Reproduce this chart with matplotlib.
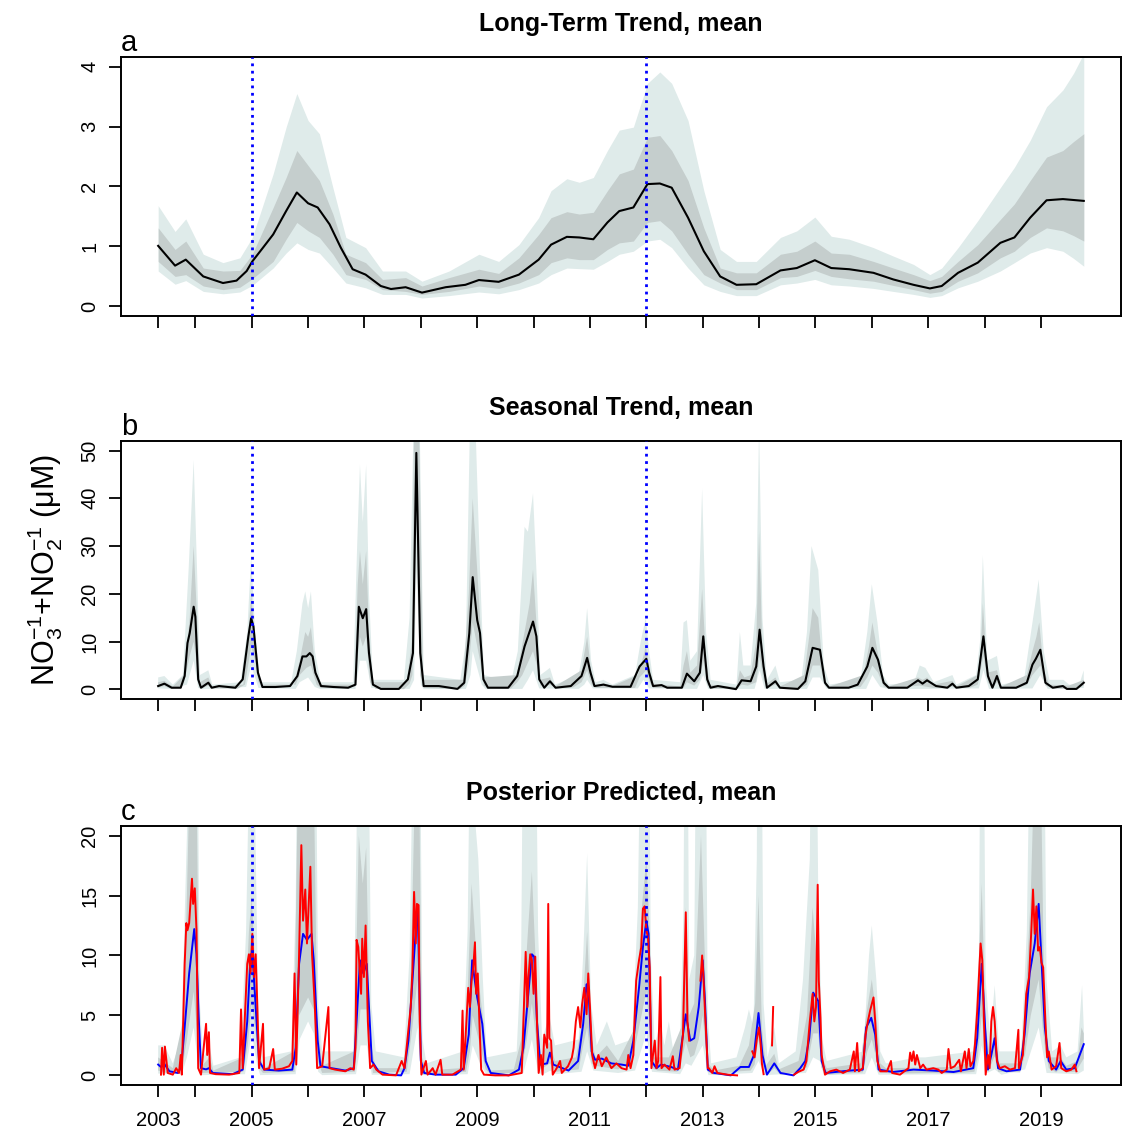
import numpy as np
import matplotlib
matplotlib.use("Agg")
import matplotlib.pyplot as plt

plt.rcParams['font.family'] = ['Liberation Sans', 'DejaVu Sans']
plt.rcParams['mathtext.fontset'] = 'custom'
plt.rcParams['mathtext.rm'] = 'Liberation Sans'
plt.rcParams['mathtext.it'] = 'Liberation Sans:italic'
plt.rcParams['mathtext.bf'] = 'Liberation Sans:bold'

# x axis: first tick is the start of the record, then Jan 1 of each year
x_tick_pos = [2003.34, 2004, 2005, 2006, 2007, 2008, 2009, 2010, 2011, 2012,
              2013, 2014, 2015, 2016, 2017, 2018, 2019]
x_tick_lab = ['2003', '', '2005', '', '2007', '', '2009', '', '2011', '',
              '2013', '', '2015', '', '2017', '', '2019']
break_years = [2005.0, 2012.0]

# ---------------- (a) long-term trend ----------------
a_mean = [(2003.34, 1.01), (2003.64, 0.68), (2003.83, 0.78), (2004.14, 0.50), (2004.49, 0.39),
          (2004.73, 0.43), (2004.91, 0.59), (2005.01, 0.75), (2005.20, 0.98), (2005.38, 1.20),
          (2005.61, 1.59), (2005.80, 1.90), (2006.00, 1.72), (2006.17, 1.65), (2006.38, 1.37),
          (2006.58, 0.98), (2006.79, 0.62), (2007.02, 0.53), (2007.29, 0.34), (2007.47, 0.29),
          (2007.73, 0.32), (2008.02, 0.23), (2008.44, 0.32), (2008.79, 0.36), (2009.03, 0.44),
          (2009.38, 0.41), (2009.74, 0.53), (2010.09, 0.78), (2010.31, 1.03), (2010.59, 1.16),
          (2010.81, 1.15), (2011.06, 1.12), (2011.31, 1.40), (2011.52, 1.59), (2011.77, 1.65),
          (2012.02, 2.04), (2012.24, 2.05), (2012.45, 1.98), (2012.74, 1.48), (2013.02, 0.92),
          (2013.31, 0.50), (2013.60, 0.36), (2013.95, 0.37), (2014.38, 0.60), (2014.67, 0.64),
          (2014.99, 0.77), (2015.28, 0.64), (2015.60, 0.62), (2016.03, 0.56), (2016.38, 0.45),
          (2016.74, 0.36), (2017.03, 0.30), (2017.24, 0.34), (2017.53, 0.56), (2017.88, 0.73),
          (2018.28, 1.06), (2018.53, 1.15), (2018.81, 1.48), (2019.10, 1.77), (2019.39, 1.79),
          (2019.76, 1.76)]

a_band_yr = [2003.34, 2003.64, 2003.83, 2004.14, 2004.49, 2004.79, 2005.01, 2005.38, 2005.61,
             2005.80, 2006.00, 2006.20, 2006.44, 2006.67, 2007.02, 2007.32, 2007.73, 2008.02,
             2008.50, 2009.03, 2009.38, 2009.74, 2010.09, 2010.31, 2010.59, 2010.81, 2011.06,
             2011.31, 2011.52, 2011.77, 2012.02, 2012.24, 2012.45, 2012.74, 2013.02, 2013.31,
             2013.60, 2013.95, 2014.38, 2014.67, 2014.99, 2015.28, 2015.60, 2016.03, 2016.38,
             2016.74, 2017.03, 2017.24, 2017.53, 2017.88, 2018.28, 2018.53, 2018.81, 2019.10,
             2019.39, 2019.58, 2019.76]
a_hi95 = [1.68, 1.25, 1.46, 0.87, 0.73, 0.81, 1.15, 2.21, 2.99, 3.55, 3.10, 2.88, 1.98, 1.15,
          0.98, 0.59, 0.59, 0.42, 0.59, 0.87, 0.75, 1.03, 1.48, 1.93, 2.13, 2.07, 2.15, 2.60,
          2.94, 2.99, 3.72, 3.91, 3.72, 3.10, 1.93, 0.95, 0.75, 0.75, 1.15, 1.26, 1.49, 1.17,
          1.12, 0.98, 0.84, 0.70, 0.53, 0.64, 0.98, 1.43, 1.98, 2.32, 2.77, 3.33, 3.61, 3.89, 4.22]
a_hi50 = [1.31, 0.95, 1.09, 0.64, 0.59, 0.60, 0.87, 1.65, 2.15, 2.60, 2.35, 2.10, 1.54, 0.87,
          0.73, 0.45, 0.48, 0.34, 0.48, 0.62, 0.55, 0.81, 1.20, 1.48, 1.58, 1.54, 1.57, 1.93,
          2.21, 2.29, 2.82, 2.85, 2.60, 2.10, 1.31, 0.64, 0.56, 0.56, 0.87, 0.92, 1.09, 0.89,
          0.87, 0.75, 0.64, 0.53, 0.43, 0.50, 0.75, 1.03, 1.45, 1.71, 2.10, 2.49, 2.60, 2.75, 2.88]
a_lo50 = [0.75, 0.50, 0.53, 0.34, 0.28, 0.32, 0.46, 0.75, 1.12, 1.40, 1.26, 1.15, 0.87, 0.53,
          0.45, 0.28, 0.25, 0.20, 0.25, 0.34, 0.30, 0.39, 0.53, 0.73, 0.81, 0.78, 0.78, 0.95,
          1.06, 1.09, 1.40, 1.43, 1.26, 0.87, 0.53, 0.39, 0.28, 0.28, 0.48, 0.50, 0.60, 0.50,
          0.46, 0.42, 0.35, 0.28, 0.22, 0.25, 0.42, 0.56, 0.81, 0.92, 1.15, 1.31, 1.26, 1.18, 1.09]
a_lo95 = [0.59, 0.37, 0.43, 0.25, 0.21, 0.24, 0.35, 0.64, 0.89, 1.06, 0.95, 0.89, 0.64, 0.39,
          0.31, 0.20, 0.20, 0.14, 0.18, 0.24, 0.21, 0.28, 0.39, 0.53, 0.64, 0.63, 0.62, 0.75,
          0.87, 0.92, 1.09, 1.12, 0.98, 0.64, 0.36, 0.25, 0.18, 0.18, 0.36, 0.39, 0.45, 0.36,
          0.34, 0.30, 0.25, 0.20, 0.15, 0.18, 0.31, 0.42, 0.59, 0.73, 0.89, 0.98, 0.92, 0.80, 0.67]

# ---------------- (b) seasonal trend ----------------
b_mean = [(2003.34, 0.7), (2003.45, 1.2), (2003.58, 0.35), (2003.74, 0.35), (2003.81, 2.8),
          (2003.86, 9.7), (2003.90, 11.8), (2003.97, 17.3), (2004.00, 15.2), (2004.05, 2.1),
          (2004.10, 0.35), (2004.23, 1.4), (2004.29, 0.35), (2004.42, 0.7), (2004.71, 0.35),
          (2004.84, 2.1), (2004.94, 11.1), (2004.99, 14.9), (2005.03, 13.2), (2005.11, 3.5),
          (2005.19, 0.5), (2005.42, 0.5), (2005.68, 0.7), (2005.81, 2.8), (2005.90, 6.9),
          (2005.97, 6.9), (2006.03, 7.6), (2006.08, 6.9), (2006.13, 3.5), (2006.23, 0.7),
          (2006.45, 0.5), (2006.71, 0.35), (2006.84, 1.0), (2006.90, 17.3), (2006.97, 14.9),
          (2007.03, 16.8), (2007.08, 7.6), (2007.15, 1.0), (2007.29, 0.1), (2007.61, 0.1),
          (2007.77, 2.1), (2007.86, 7.6), (2007.92, 49.5), (2007.99, 7.6), (2008.05, 0.7),
          (2008.32, 0.7), (2008.65, 0.1), (2008.77, 1.4), (2008.86, 11.8), (2008.92, 23.5),
          (2009.00, 14.5), (2009.05, 11.8), (2009.11, 2.1), (2009.19, 0.35), (2009.55, 0.35),
          (2009.71, 2.8), (2009.84, 9.0), (2009.99, 14.2), (2010.05, 11.1), (2010.10, 2.1),
          (2010.19, 0.35), (2010.29, 1.7), (2010.39, 0.35), (2010.66, 0.7), (2010.85, 2.8),
          (2010.95, 6.6), (2011.01, 3.5), (2011.08, 0.7), (2011.24, 1.0), (2011.40, 0.55),
          (2011.72, 0.55), (2011.88, 4.8), (2012.00, 6.4), (2012.05, 3.5), (2012.12, 0.7),
          (2012.27, 0.9), (2012.37, 0.35), (2012.63, 0.35), (2012.72, 3.3), (2012.85, 1.7),
          (2012.95, 3.5), (2013.01, 11.1), (2013.08, 2.1), (2013.14, 0.35), (2013.27, 0.7),
          (2013.59, 0.05), (2013.69, 1.9), (2013.85, 1.7), (2013.95, 4.8), (2014.01, 12.5),
          (2014.08, 4.8), (2014.14, 0.35), (2014.29, 1.7), (2014.37, 0.35), (2014.69, 0.1),
          (2014.82, 1.7), (2014.95, 8.7), (2015.08, 8.3), (2015.17, 1.4), (2015.24, 0.35),
          (2015.59, 0.35), (2015.75, 1.0), (2015.92, 4.8), (2016.01, 8.7), (2016.11, 6.2),
          (2016.21, 1.4), (2016.30, 0.35), (2016.63, 0.35), (2016.82, 1.9), (2016.90, 1.2),
          (2016.98, 1.9), (2017.14, 0.7), (2017.34, 0.35), (2017.43, 1.2), (2017.50, 0.35),
          (2017.72, 0.7), (2017.88, 2.1), (2017.98, 11.1), (2018.06, 2.8), (2018.14, 0.35),
          (2018.22, 2.8), (2018.29, 0.35), (2018.56, 0.35), (2018.75, 1.4), (2018.85, 5.2),
          (2018.91, 6.4), (2018.99, 8.3), (2019.08, 1.4), (2019.21, 0.35), (2019.39, 0.7),
          (2019.46, 0.1), (2019.63, 0.1), (2019.76, 1.4)]

b_hi95 = [(2003.34, 2.5), (2003.45, 2.8), (2003.60, 1.0), (2003.78, 3), (2003.88, 25), (2003.97, 48),
          (2004.03, 25), (2004.08, 3), (2004.23, 4), (2004.30, 1), (2004.80, 1.5), (2004.92, 12),
          (2004.99, 28), (2005.06, 12), (2005.15, 1.5), (2005.70, 1.5), (2005.80, 8), (2005.90, 18),
          (2005.95, 20.5), (2006.00, 17), (2006.05, 20.5), (2006.12, 8), (2006.22, 1.5), (2006.80, 1.5),
          (2006.87, 30), (2006.92, 47), (2006.97, 35), (2007.03, 47), (2007.08, 20), (2007.15, 2),
          (2007.70, 2), (2007.80, 15), (2007.87, 55), (2007.98, 55), (2008.05, 3), (2008.70, 2),
          (2008.80, 10), (2008.87, 55), (2008.97, 55), (2009.05, 25), (2009.12, 3), (2009.60, 1.5),
          (2009.72, 8), (2009.84, 34), (2009.90, 33), (2009.99, 41), (2010.05, 25), (2010.12, 3),
          (2010.29, 4.5), (2010.38, 1), (2010.80, 3), (2010.90, 10), (2010.95, 17), (2011.02, 6),
          (2011.10, 1.5), (2011.24, 2), (2011.40, 1), (2011.80, 3), (2011.90, 10), (2011.99, 15),
          (2012.05, 8), (2012.12, 2), (2012.60, 1.5), (2012.66, 14), (2012.72, 14.5), (2012.78, 6),
          (2012.90, 8), (2012.99, 42), (2013.06, 12), (2013.14, 2), (2013.60, 1), (2013.66, 12),
          (2013.72, 5), (2013.85, 5), (2013.95, 18), (2014.00, 55), (2014.06, 15), (2014.14, 2),
          (2014.29, 5), (2014.37, 1.5), (2014.75, 2), (2014.85, 12), (2014.93, 30), (2015.05, 25),
          (2015.15, 5), (2015.25, 1), (2015.80, 2), (2015.92, 12), (2016.00, 22), (2016.10, 14),
          (2016.20, 3), (2016.30, 1), (2016.75, 1.5), (2016.85, 5), (2016.95, 4.5), (2017.10, 1.5),
          (2017.43, 3), (2017.50, 1), (2017.85, 3), (2017.92, 10), (2017.97, 28), (2018.05, 6),
          (2018.22, 7), (2018.30, 1), (2018.70, 2), (2018.80, 10), (2018.90, 18), (2018.96, 23),
          (2019.05, 8), (2019.15, 2), (2019.40, 2), (2019.50, 1), (2019.68, 1), (2019.76, 4)]

b_hi50 = [(2003.34, 1.5), (2003.45, 1.8), (2003.60, 0.6), (2003.80, 3), (2003.90, 15), (2003.97, 30),
          (2004.03, 15), (2004.08, 1.5), (2004.23, 2.5), (2004.30, 0.6), (2004.85, 1), (2004.93, 10),
          (2004.99, 20), (2005.06, 10), (2005.15, 1), (2005.75, 1), (2005.85, 6), (2005.95, 12),
          (2006.00, 11), (2006.05, 13), (2006.13, 4), (2006.22, 1), (2006.82, 1), (2006.88, 22),
          (2006.92, 29), (2006.97, 22), (2007.03, 29), (2007.08, 12), (2007.15, 1.5), (2007.75, 1.5),
          (2007.84, 10), (2007.88, 55), (2007.97, 55), (2008.04, 2), (2008.75, 2), (2008.85, 20),
          (2008.92, 40), (2009.00, 25), (2009.06, 13), (2009.12, 2.5), (2009.70, 3), (2009.84, 12),
          (2009.93, 18), (2009.99, 25), (2010.05, 14), (2010.11, 2), (2010.29, 2.5), (2010.38, 0.6),
          (2010.85, 4), (2010.95, 11), (2011.02, 4), (2011.10, 0.8), (2011.24, 1.3), (2011.40, 0.7),
          (2011.85, 3), (2011.95, 7), (2011.99, 9), (2012.05, 5), (2012.12, 1.2), (2012.60, 0.6),
          (2012.66, 5), (2012.72, 8), (2012.78, 3.5), (2012.90, 5), (2012.99, 21), (2013.06, 6),
          (2013.13, 1), (2013.60, 0.5), (2013.66, 4), (2013.74, 2.5), (2013.85, 3), (2013.95, 10),
          (2014.00, 33), (2014.06, 8), (2014.12, 1), (2014.29, 2.5), (2014.37, 0.6), (2014.80, 3),
          (2014.90, 12), (2014.95, 17), (2015.05, 15), (2015.15, 2), (2015.25, 0.6), (2015.85, 3),
          (2015.95, 9), (2016.01, 14), (2016.10, 8), (2016.20, 2.2), (2016.30, 0.6), (2016.82, 2.5),
          (2016.90, 2), (2016.98, 2.5), (2017.10, 1), (2017.43, 1.8), (2017.50, 0.6), (2017.88, 3),
          (2017.93, 8), (2017.97, 18), (2018.05, 3.5), (2018.22, 4), (2018.30, 0.6), (2018.75, 3),
          (2018.85, 8), (2018.92, 11), (2018.97, 14), (2019.05, 4), (2019.15, 1), (2019.50, 0.8),
          (2019.76, 2)]

b_lo50 = [(2003.34, 0.4), (2003.45, 0.7), (2003.55, 0.2), (2003.74, 0.25), (2003.80, 1.5), (2003.90, 7),
          (2003.97, 10), (2004.02, 6), (2004.06, 1), (2004.12, 0.2), (2004.23, 0.8), (2004.29, 0.2),
          (2004.75, 0.15), (2004.88, 1), (2004.99, 9), (2005.06, 6), (2005.12, 1.5), (2005.20, 0.3),
          (2005.78, 1.0), (2005.85, 3), (2005.97, 4.5), (2006.05, 5), (2006.15, 1), (2006.22, 0.3),
          (2006.83, 0.5), (2006.86, 5), (2006.92, 11), (2006.97, 9), (2007.03, 11), (2007.10, 1.5),
          (2007.20, 0.1), (2007.70, 0.05), (2007.80, 1.2), (2007.85, 3), (2007.92, 35), (2007.99, 3),
          (2008.05, 0.3), (2008.70, 0.05), (2008.78, 0.8), (2008.85, 5), (2008.92, 14), (2009.05, 6),
          (2009.12, 0.8), (2009.20, 0.2), (2009.60, 0.2), (2009.71, 1.5), (2009.80, 3), (2009.99, 8),
          (2010.06, 5), (2010.12, 0.8), (2010.30, 0.9), (2010.40, 0.2), (2010.70, 0.4), (2010.85, 1.5),
          (2010.95, 4), (2011.03, 1), (2011.10, 0.3), (2011.80, 0.3), (2011.88, 2.5), (2012.00, 4),
          (2012.06, 1.5), (2012.12, 0.3), (2012.66, 0.3), (2012.72, 1.5), (2012.85, 0.8), (2012.95, 2.0),
          (2013.01, 6), (2013.08, 1), (2013.14, 0.2), (2013.60, 0.02), (2013.69, 1.0), (2013.80, 0.8),
          (2013.95, 1.5), (2014.01, 7), (2014.08, 2), (2014.14, 0.2), (2014.29, 1.0), (2014.37, 0.2),
          (2014.70, 0.05), (2014.85, 1), (2014.95, 5), (2015.08, 5), (2015.17, 0.8), (2015.25, 0.2),
          (2015.80, 0.5), (2015.92, 2.5), (2016.01, 5), (2016.11, 3.5), (2016.21, 0.6), (2016.30, 0.2),
          (2016.85, 0.8), (2017.10, 0.3), (2017.43, 0.6), (2017.50, 0.2), (2017.75, 0.4), (2017.88, 1),
          (2017.98, 7), (2018.06, 1.5), (2018.14, 0.2), (2018.22, 1.5), (2018.29, 0.2), (2018.56, 0.2),
          (2018.75, 0.9), (2018.85, 3), (2018.99, 5), (2019.08, 0.8), (2019.20, 0.2), (2019.63, 0.05),
          (2019.76, 0.8)]

b_lo95 = [(2003.34, 0.2), (2003.58, 0.1), (2003.85, 1), (2003.97, 6), (2004.05, 0.3), (2004.12, 0.05),
          (2004.90, 0.5), (2004.99, 5), (2005.12, 0.3), (2005.78, 0.1), (2005.85, 1.5), (2006.00, 2.5),
          (2006.12, 0.5), (2006.22, 0.05), (2006.84, 0.1), (2006.88, 3), (2006.92, 6), (2007.03, 6),
          (2007.12, 0.3), (2007.80, 0.1), (2007.88, 2), (2007.92, 25), (2008.00, 1), (2008.05, 0.05),
          (2008.80, 0.1), (2008.88, 3), (2008.92, 8), (2009.08, 1), (2009.15, 0.05), (2009.80, 0.1),
          (2009.90, 2), (2009.99, 4), (2010.10, 0.2), (2010.80, 0.1), (2010.90, 1), (2010.95, 2),
          (2011.05, 0.2), (2011.85, 0.2), (2011.95, 2), (2012.05, 0.2), (2012.90, 0.1), (2013.01, 3),
          (2013.10, 0.1), (2013.92, 0.1), (2014.01, 4), (2014.10, 0.1), (2014.85, 0.1), (2014.95, 2.5),
          (2015.08, 2.5), (2015.20, 0.1), (2015.90, 0.1), (2016.01, 3), (2016.15, 0.5), (2016.30, 0.05),
          (2017.90, 0.2), (2017.98, 4), (2018.08, 0.1), (2018.85, 0.2), (2018.99, 3), (2019.12, 0.1),
          (2019.76, 0.3)]

# ---------------- (c) posterior predicted vs observed ----------------
c_pred = [(2003.34, 0.9), (2003.39, 0.7), (2003.45, 0.95), (2003.54, 0.34), (2003.69, 0.2),
          (2003.75, 0.76), (2003.81, 4.0), (2003.89, 8.5), (2003.98, 12.2), (2004.02, 10.1),
          (2004.06, 4.8), (2004.10, 0.6), (2004.19, 0.5), (2004.24, 0.6), (2004.31, 0.2),
          (2004.66, 0.1), (2004.84, 0.48), (2004.92, 4.5), (2004.98, 10.1), (2005.02, 9.6),
          (2005.07, 5.7), (2005.13, 1.2), (2005.22, 0.48), (2005.48, 0.4), (2005.72, 0.48),
          (2005.78, 2.3), (2005.84, 9.3), (2005.91, 11.8), (2005.98, 11.3), (2006.06, 11.8),
          (2006.10, 9.6), (2006.17, 2.9), (2006.22, 0.76), (2006.42, 0.6), (2006.66, 0.4),
          (2006.81, 0.6), (2006.86, 4.5), (2006.92, 9.6), (2006.98, 8.5), (2007.04, 9.3),
          (2007.08, 5.7), (2007.13, 1.2), (2007.25, 0.34), (2007.44, 0.06), (2007.65, 0.0),
          (2007.71, 0.6), (2007.78, 2.9), (2007.85, 7.9), (2007.91, 12.1), (2007.94, 14.2),
          (2007.96, 10.7), (2008.00, 1.2), (2008.06, 0.2), (2008.26, 0.06), (2008.62, 0.06),
          (2008.76, 0.6), (2008.85, 3.4), (2008.91, 9.6), (2008.94, 8.5), (2009.00, 6.5),
          (2009.09, 4.3), (2009.15, 1.2), (2009.24, 0.2), (2009.56, 0.0), (2009.74, 0.48),
          (2009.82, 2.3), (2009.90, 6.5), (2009.97, 10.1), (2010.01, 9.9), (2010.06, 4.5),
          (2010.12, 0.9), (2010.24, 1.0), (2010.29, 1.9), (2010.35, 0.9), (2010.62, 0.4),
          (2010.79, 1.2), (2010.88, 4.3), (2010.94, 7.6), (2010.98, 6.5), (2011.03, 2.0),
          (2011.09, 1.3), (2011.21, 1.4), (2011.38, 1.0), (2011.56, 0.9), (2011.68, 0.8),
          (2011.77, 2.9), (2011.87, 7.3), (2011.94, 10.7), (2012.00, 12.9), (2012.04, 11.8),
          (2012.09, 1.2), (2012.18, 0.6), (2012.26, 0.9), (2012.44, 0.7), (2012.56, 0.48),
          (2012.65, 3.4), (2012.70, 5.1), (2012.78, 2.9), (2012.85, 3.1), (2012.93, 5.7),
          (2013.00, 9.6), (2013.04, 6.2), (2013.09, 0.48), (2013.20, 0.2), (2013.50, 0.0),
          (2013.67, 0.7), (2013.82, 0.7), (2013.91, 1.7), (2013.99, 5.2), (2014.06, 1.7),
          (2014.14, 0.06), (2014.27, 1.0), (2014.38, 0.2), (2014.61, 0.0), (2014.73, 0.6),
          (2014.82, 1.2), (2014.89, 3.1), (2014.96, 6.9), (2015.05, 6.2), (2015.11, 1.2),
          (2015.18, 0.2), (2015.61, 0.4), (2015.84, 0.48), (2015.90, 4.0), (2015.99, 4.8),
          (2016.06, 3.4), (2016.12, 0.48), (2016.38, 0.28), (2016.74, 0.48), (2017.09, 0.4),
          (2017.45, 0.28), (2017.80, 0.6), (2017.87, 3.1), (2017.95, 9.3), (2018.01, 4.0),
          (2018.06, 0.48), (2018.12, 1.7), (2018.18, 3.1), (2018.24, 0.6), (2018.39, 0.34),
          (2018.63, 0.48), (2018.71, 3.4), (2018.80, 8.5), (2018.89, 11.0), (2018.96, 14.3),
          (2019.01, 9.6), (2019.07, 4.0), (2019.14, 1.2), (2019.27, 0.48), (2019.35, 1.2),
          (2019.45, 0.48), (2019.60, 0.6), (2019.76, 2.6)]

# observations; NaN marks gaps in sampling
c_obs = [(2003.39, 0.06), (2003.41, 2.3), (2003.44, 0.06), (2003.46, 2.4), (2003.48, 1.5),
         (2003.51, 0.2), (2003.60, 0.06), (2003.66, 0.6), (2003.71, 0.2), (2003.74, 1.7),
         (2003.76, 0.06), (2003.78, 3.7), (2003.81, 9.3), (2003.84, 12.7), (2003.86, 12.1),
         (2003.89, 12.7), (2003.94, 16.4), (2003.96, 14.3), (2003.99, 15.6), (2004.02, 12.1),
         (2004.05, 0.6), (2004.10, 0.06), (2004.19, 4.3), (2004.21, 1.7), (2004.24, 3.6),
         (2004.26, 0.2), (2004.36, 0.1), (2004.60, 0.06), (2004.78, 0.2), (2004.81, 5.5),
         (2004.84, 0.6), (2004.88, 5.1), (2004.92, 9.3), (2004.95, 10.1), (2004.98, 8.5),
         (2005.01, 11.8), (2005.04, 8.2), (2005.07, 10.1), (2005.10, 5.7), (2005.13, 0.6),
         (2005.20, 4.3), (2005.22, 0.48), (2005.31, 0.6), (2005.38, 2.2), (2005.41, 0.48),
         (2005.54, 0.56), (2005.66, 0.76), (2005.72, 1.2), (2005.76, 8.5), (2005.79, 0.9),
         (2005.84, 10.1), (2005.88, 19.2), (2005.91, 12.9), (2005.95, 15.5), (2005.98, 11.0),
         (2006.01, 14.2), (2006.04, 17.4), (2006.07, 10.1), (2006.12, 5.7), (2006.16, 0.6),
         (2006.25, 0.76), (2006.36, 5.7), (2006.38, 0.6), (2006.48, 0.48), (2006.66, 0.34),
         (2006.75, 0.6), (2006.81, 0.48), (2006.84, 2.3), (2006.86, 11.3), (2006.89, 10.7),
         (2006.94, 6.8), (2006.96, 11.4), (2006.99, 8.2), (2007.02, 12.5), (2007.06, 4.5),
         (2007.10, 0.6), (2007.16, 0.9), (2007.21, 0.48), (2007.32, 0.06), (2007.56, 0.0),
         (2007.66, 1.2), (2007.71, 0.6), (2007.76, 2.9), (2007.82, 5.7), (2007.85, 8.7),
         (2007.88, 15.3), (2007.91, 11.0), (2007.93, 14.3), (2007.96, 14.2), (2007.98, 4.5),
         (2008.01, 0.06), (2008.09, 1.2), (2008.12, 0.06), (2008.21, 0.6), (2008.26, 0.06),
         (2008.35, 1.3), (2008.38, 0.06), (2008.56, 0.06), (2008.71, 0.48), (2008.74, 5.4),
         (2008.76, 0.48), (2008.79, 2.9), (2008.84, 7.3), (2008.87, 5.7), (2008.90, 7.9),
         (2008.93, 9.0), (2008.96, 11.1), (2008.98, 6.8), (2009.01, 8.5), (2009.04, 4.3),
         (2009.07, 0.48), (2009.12, 0.06), (2009.32, 0.0), (2009.56, 0.0), (2009.79, 0.2),
         (2009.86, 10.3), (2009.89, 5.7), (2009.91, 8.2), (2009.94, 10.1), (2009.97, 9.6),
         (2010.00, 6.8), (2010.03, 9.9), (2010.06, 4.5), (2010.09, 0.2), (2010.13, 1.7),
         (2010.16, 0.06), (2010.19, 3.4), (2010.24, 2.3), (2010.26, 14.3), (2010.28, 3.1),
         (2010.31, 2.9), (2010.34, 0.06), (2010.41, 0.6), (2010.47, 1.2), (2010.50, 0.2),
         (2010.61, 0.76), (2010.68, 1.5), (2010.71, 2.3), (2010.75, 4.5), (2010.79, 5.7),
         (2010.83, 4.0), (2010.86, 5.9), (2010.90, 7.3), (2010.94, 5.1), (2010.97, 8.5),
         (2011.00, 5.7), (2011.04, 1.7), (2011.09, 0.6), (2011.15, 1.7), (2011.21, 0.76),
         (2011.29, 1.5), (2011.38, 0.6), (2011.47, 1.0), (2011.56, 0.6), (2011.65, 0.48),
         (2011.68, 1.7), (2011.72, 0.6), (2011.77, 1.7), (2011.79, 4.5), (2011.82, 7.9),
         (2011.87, 9.6), (2011.91, 10.7), (2011.94, 13.9), (2011.97, 14.1), (2012.00, 12.1),
         (2012.03, 11.5), (2012.06, 9.0), (2012.09, 0.6), (2012.15, 2.9), (2012.18, 0.6),
         (2012.21, 1.2), (2012.25, 8.2), (2012.27, 0.6), (2012.32, 0.9), (2012.41, 0.48),
         (2012.47, 1.6), (2012.50, 0.48), (2012.59, 0.6), (2012.65, 3.4), (2012.70, 13.6),
         (2012.73, 4.5), (2012.76, 2.9), (2012.80, np.nan), (2012.96, 7.9), (2012.99, 10.0),
         (2013.01, 8.5), (2013.04, 5.4), (2013.09, 0.6), (2013.11, 0.6), (2013.17, 0.2),
         (2013.21, 0.76), (2013.26, 0.2), (2013.44, 0.06), (2013.61, 0.0), (2013.75, np.nan),
         (2013.88, 2.0), (2013.92, 1.5), (2013.96, 3.0), (2014.00, 4.0), (2014.03, 2.5),
         (2014.05, 1.0), (2014.08, 0.1), (2014.15, np.nan), (2014.23, 2.5), (2014.25, 5.7),
         (2014.30, np.nan), (2014.62, 0.06), (2014.70, 0.3), (2014.79, 0.48), (2014.84, 1.2),
         (2014.90, 4.5), (2014.95, 6.8), (2014.98, 4.5), (2015.01, 5.7), (2015.04, 15.9),
         (2015.06, 7.9), (2015.09, 4.8), (2015.11, 1.7), (2015.17, 0.06), (2015.26, 0.34),
         (2015.37, 0.48), (2015.49, 0.2), (2015.61, 0.48), (2015.68, 2.0), (2015.70, 0.34),
         (2015.74, 2.7), (2015.77, 0.34), (2015.84, 0.6), (2015.89, 3.4), (2015.93, 4.5),
         (2015.97, 5.4), (2016.03, 6.5), (2016.06, 4.5), (2016.10, 1.2), (2016.15, 0.34),
         (2016.27, 0.34), (2016.34, 1.2), (2016.36, 0.2), (2016.50, 0.06), (2016.65, 0.6),
         (2016.68, 1.9), (2016.71, 1.2), (2016.74, 2.0), (2016.77, 0.9), (2016.80, 1.7),
         (2016.86, 0.6), (2016.91, 0.9), (2016.97, 0.48), (2017.09, 0.6), (2017.18, 0.48),
         (2017.24, 0.2), (2017.33, 0.48), (2017.36, 2.2), (2017.40, 0.6), (2017.47, 0.76),
         (2017.55, 1.3), (2017.58, 0.34), (2017.65, 2.0), (2017.68, 0.6), (2017.72, 2.2),
         (2017.75, 0.76), (2017.80, 1.2), (2017.83, 2.6), (2017.87, 5.4), (2017.90, 8.2),
         (2017.93, 11.0), (2017.96, 9.6), (2017.99, 4.5), (2018.02, 0.06), (2018.06, 1.7),
         (2018.09, 0.6), (2018.12, 4.5), (2018.15, 5.7), (2018.18, 4.5), (2018.22, 1.2),
         (2018.27, 0.6), (2018.36, 0.76), (2018.45, 0.48), (2018.54, 0.6), (2018.60, 3.8),
         (2018.61, 0.6), (2018.68, 1.7), (2018.74, 6.8), (2018.79, 8.2), (2018.83, 12.1),
         (2018.86, 15.5), (2018.89, 11.8), (2018.92, 14.1), (2018.95, 10.4), (2018.98, 10.7),
         (2019.01, 9.4), (2019.04, 9.0), (2019.08, 4.5), (2019.11, 1.5), (2019.14, 2.0),
         (2019.19, 0.48), (2019.27, 0.76), (2019.33, 2.7), (2019.36, 0.6), (2019.45, 0.34),
         (2019.54, 0.48), (2019.60, 0.9), (2019.63, 0.34)]

c_hi95 = [(2003.34, 2.5), (2003.45, 2.5), (2003.60, 1), (2003.75, 3), (2003.85, 20), (2003.92, 40),
          (2004.02, 40), (2004.08, 6), (2004.14, 1.5), (2004.25, 2.5), (2004.32, 0.8), (2004.80, 1.5),
          (2004.90, 12), (2004.97, 30), (2005.05, 25), (2005.12, 4), (2005.20, 1.5), (2005.70, 2),
          (2005.78, 14), (2005.83, 40), (2006.12, 40), (2006.18, 6), (2006.25, 2), (2006.80, 2),
          (2006.86, 20), (2006.90, 40), (2006.94, 30), (2006.97, 25), (2007.02, 40), (2007.07, 30),
          (2007.12, 6), (2007.20, 2), (2007.70, 1.5), (2007.80, 10), (2007.90, 40), (2007.97, 40),
          (2008.03, 3), (2008.10, 1), (2008.75, 2), (2008.83, 12), (2008.90, 40), (2008.95, 22),
          (2009.02, 18), (2009.10, 8), (2009.17, 1.5), (2009.70, 2), (2009.78, 10), (2009.83, 40),
          (2009.88, 40), (2009.91, 22), (2009.95, 40), (2010.02, 40), (2010.08, 12), (2010.15, 3),
          (2010.28, 5), (2010.38, 2.5), (2010.80, 3), (2010.88, 10), (2010.95, 18.5), (2011.02, 6),
          (2011.12, 2.5), (2011.30, 4.5), (2011.45, 2.5), (2011.75, 3), (2011.85, 14), (2011.93, 40),
          (2012.03, 40), (2012.08, 10), (2012.15, 2.5), (2012.25, 4.5), (2012.32, 2.5), (2012.40, 4.5),
          (2012.48, 2), (2012.60, 3), (2012.66, 14), (2012.69, 40), (2012.72, 40), (2012.76, 8),
          (2012.85, 10), (2012.90, 40), (2013.04, 40), (2013.09, 5), (2013.15, 1), (2013.60, 1.5),
          (2013.75, 4), (2013.82, 5.5), (2013.90, 4), (2013.96, 18), (2013.98, 40), (2014.03, 40),
          (2014.08, 6), (2014.15, 1.5), (2014.27, 4), (2014.35, 1), (2014.65, 2), (2014.78, 8),
          (2014.90, 18), (2014.95, 40), (2015.00, 40), (2015.05, 15), (2015.12, 3), (2015.20, 1.2),
          (2015.85, 2), (2015.95, 10), (2016.00, 12.5), (2016.08, 8), (2016.15, 2), (2016.25, 1),
          (2016.80, 1.5), (2016.95, 1.5), (2017.80, 2), (2017.90, 10), (2017.94, 40), (2017.97, 40),
          (2018.02, 8), (2018.10, 3), (2018.18, 7.5), (2018.26, 2), (2018.65, 2), (2018.75, 12),
          (2018.84, 40), (2019.04, 40), (2019.10, 8), (2019.20, 2), (2019.35, 2.5), (2019.45, 1.5),
          (2019.65, 2), (2019.73, 7.5), (2019.76, 4)]

c_hi50 = [(2003.34, 1.5), (2003.60, 0.6), (2003.80, 5), (2003.90, 25), (2004.02, 25), (2004.07, 3),
          (2004.12, 0.8), (2004.25, 1.5), (2004.32, 0.4), (2004.85, 1.5), (2004.95, 12), (2005.00, 15),
          (2005.07, 8), (2005.15, 1.5), (2005.22, 0.6), (2005.75, 2), (2005.82, 25), (2006.10, 25),
          (2006.16, 5), (2006.25, 0.8), (2006.82, 2), (2006.90, 20), (2006.97, 16), (2007.03, 19),
          (2007.10, 3), (2007.20, 0.6), (2007.68, 0.6), (2007.80, 4), (2007.90, 25), (2007.97, 25),
          (2008.02, 1.5), (2008.10, 0.4), (2008.70, 0.6), (2008.80, 3), (2008.90, 16), (2009.00, 9),
          (2009.12, 4), (2009.16, 1.5), (2009.22, 0.4), (2009.65, 0.5), (2009.78, 3), (2009.90, 12),
          (2009.97, 17), (2010.05, 8), (2010.12, 1.5), (2010.28, 2.8), (2010.38, 1.2), (2010.75, 1.5),
          (2010.85, 4), (2010.95, 12), (2011.03, 3), (2011.10, 1.5), (2011.30, 2.5), (2011.50, 1.2),
          (2011.80, 4), (2011.92, 14), (2012.00, 18), (2012.06, 12), (2012.12, 1.5), (2012.40, 1.5),
          (2012.62, 4), (2012.70, 14), (2012.76, 5), (2012.85, 6), (2012.97, 20), (2013.05, 8),
          (2013.10, 1), (2013.20, 0.4), (2013.65, 0.8), (2013.82, 2.5), (2013.93, 6), (2013.99, 15),
          (2014.05, 4), (2014.12, 0.8), (2014.27, 1.8), (2014.35, 0.5), (2014.70, 1.2), (2014.85, 5),
          (2014.95, 14), (2015.05, 8), (2015.12, 1.5), (2015.20, 0.6), (2015.80, 1), (2015.90, 5),
          (2016.00, 8), (2016.08, 5), (2016.15, 1), (2016.25, 0.6), (2017.50, 0.7), (2017.80, 1.2),
          (2017.85, 3), (2017.95, 16), (2018.02, 4), (2018.10, 1.5), (2018.18, 4), (2018.26, 1),
          (2018.62, 1), (2018.70, 4), (2018.82, 15), (2018.88, 25), (2019.00, 25), (2019.06, 6),
          (2019.15, 1.5), (2019.35, 1.5), (2019.45, 0.8), (2019.65, 1.2), (2019.72, 4), (2019.76, 3.5)]

c_lo50 = [(2003.34, 0.4), (2003.50, 0.2), (2003.76, 0.4), (2003.85, 3), (2003.97, 7), (2004.04, 3),
          (2004.08, 0.2), (2004.85, 0.3), (2004.93, 2.5), (2005.00, 6), (2005.07, 3.5), (2005.13, 0.6),
          (2005.20, 0.2), (2005.76, 0.3), (2005.84, 5), (2006.00, 6.5), (2006.10, 5.5), (2006.17, 1.2),
          (2006.25, 0.2), (2006.83, 0.3), (2006.88, 3), (2006.93, 5.5), (2007.04, 5.5), (2007.10, 2.5),
          (2007.15, 0.2), (2007.75, 0.3), (2007.85, 4), (2007.94, 8), (2007.99, 0.6), (2008.05, 0.05),
          (2008.80, 0.3), (2008.87, 2), (2008.92, 5), (2009.05, 2.5), (2009.15, 0.5), (2009.25, 0.05),
          (2009.78, 0.3), (2009.88, 3), (2009.97, 6), (2010.06, 2.5), (2010.13, 0.5), (2010.29, 1.0),
          (2010.40, 0.3), (2010.80, 0.5), (2010.88, 2.5), (2010.95, 4), (2011.03, 1), (2011.09, 0.8),
          (2011.50, 0.5), (2011.75, 1.2), (2011.87, 4), (2012.00, 7), (2012.06, 4), (2012.10, 0.6),
          (2012.20, 0.4), (2012.55, 0.3), (2012.65, 1.8), (2012.70, 2.8), (2012.78, 1.5), (2012.85, 1.7),
          (2012.93, 3), (2013.00, 5), (2013.05, 2.5), (2013.09, 0.3), (2013.20, 0.05), (2013.67, 0.35),
          (2013.85, 0.4), (2013.92, 0.9), (2013.99, 3), (2014.06, 0.9), (2014.14, 0.02), (2014.27, 0.6),
          (2014.38, 0.05), (2014.73, 0.3), (2014.85, 0.7), (2014.96, 3.5), (2015.05, 3.5), (2015.11, 0.6),
          (2015.18, 0.05), (2015.84, 0.25), (2015.92, 2), (2016.00, 3), (2016.06, 1.8), (2016.12, 0.25),
          (2016.40, 0.15), (2017.10, 0.2), (2017.45, 0.15), (2017.82, 0.3), (2017.88, 1.5), (2017.95, 5),
          (2018.01, 2), (2018.06, 0.25), (2018.18, 1.6), (2018.24, 0.3), (2018.63, 0.25), (2018.72, 1.8),
          (2018.82, 5), (2018.96, 8), (2019.03, 4), (2019.08, 2), (2019.14, 0.6), (2019.27, 0.25),
          (2019.35, 0.6), (2019.45, 0.25), (2019.62, 0.3), (2019.76, 1.4)]

c_lo95 = [(2003.34, 0.15), (2003.76, 0.1), (2003.85, 1.5), (2003.97, 4), (2004.06, 0.5), (2004.10, 0.02),
          (2004.88, 0.1), (2005.00, 3.5), (2005.10, 0.8), (2005.15, 0.02), (2005.78, 0.1), (2005.85, 3),
          (2006.00, 4.5), (2006.10, 3.5), (2006.18, 0.3), (2006.25, 0.02), (2006.85, 0.1), (2006.93, 2.5),
          (2007.04, 2.5), (2007.13, 0.05), (2007.80, 0.1), (2007.94, 4), (2008.00, 0.2), (2008.05, 0.02),
          (2008.83, 0.1), (2008.92, 2.5), (2009.05, 1), (2009.17, 0.02), (2009.82, 0.2), (2009.97, 3),
          (2010.08, 0.3), (2010.15, 0.05), (2010.30, 0.4), (2010.40, 0.1), (2010.85, 0.3), (2010.95, 2),
          (2011.06, 0.4), (2011.50, 0.2), (2011.80, 0.4), (2012.00, 3.5), (2012.10, 0.3), (2012.60, 0.1),
          (2012.70, 1), (2012.80, 0.8), (2013.00, 2.5), (2013.10, 0.02), (2013.88, 0.2), (2013.99, 1.2),
          (2014.10, 0.02), (2014.83, 0.2), (2014.96, 1.5), (2015.08, 1.2), (2015.15, 0.02), (2015.88, 0.1),
          (2016.00, 1.5), (2016.12, 0.05), (2017.85, 0.1), (2017.95, 2.5), (2018.05, 0.2), (2018.18, 0.5),
          (2018.30, 0.05), (2018.72, 0.5), (2018.96, 4), (2019.10, 0.2), (2019.65, 0.1), (2019.76, 0.4)]

light_col = '#dfebea'
dark_col = '#c5cecd'


def fill_band(ax, hi, lo, color):
    hi = np.array(hi)
    lo = np.array(lo)
    xs = np.concatenate([hi[:, 0], lo[::-1, 0]])
    ys = np.concatenate([hi[:, 1], lo[::-1, 1]])
    ax.fill(xs, ys, color=color, lw=0, zorder=1)


def line(ax, pts, color, lw):
    pts = np.array(pts)
    ax.plot(pts[:, 0], pts[:, 1], color=color, lw=lw, zorder=3)


def style(ax, ylim, yticks, title, letter, show_x=False):
    ax.set_xlim(2002.68, 2020.42)
    ax.set_ylim(*ylim)
    ax.set_xticks(x_tick_pos)
    ax.set_yticks(yticks)
    ax.set_yticklabels([str(t) for t in yticks])
    if show_x:
        ax.set_xticklabels(x_tick_lab)
    ax.tick_params(direction='out', length=8.5, width=1.3, labelsize=14.5,
                   labelbottom=show_x, pad=7)
    ax.tick_params(axis='x', pad=10)
    plt.setp(ax.get_yticklabels(), rotation=90, va='center')
    for s in ax.spines.values():
        s.set_linewidth(1.4)
    ax.set_title(title, fontsize=18, fontweight='bold', pad=19)
    ax.text(0.0, 1.0, letter, transform=ax.transAxes, fontsize=21,
            ha='left', va='bottom')
    for yr in break_years:
        ax.axvline(yr, color='blue', ls=':', lw=2, zorder=4)


fig = plt.figure(figsize=(11.4, 11.33), dpi=100)
ax_a = fig.add_axes([0.1061, 0.7211, 0.8772, 0.2286])
ax_b = fig.add_axes([0.1061, 0.3831, 0.8772, 0.2277])
ax_c = fig.add_axes([0.1061, 0.0424, 0.8772, 0.2286])

# (a)
ax_a.fill_between(a_band_yr, a_lo95, a_hi95, color=light_col, lw=0, zorder=1)
ax_a.fill_between(a_band_yr, a_lo50, a_hi50, color=dark_col, lw=0, zorder=2)
line(ax_a, a_mean, 'black', 1.5)
style(ax_a, (-0.16, 4.16), [0, 1, 2, 3, 4], 'Long-Term Trend, mean', 'a')

# (b)
fill_band(ax_b, b_hi95, b_lo95, light_col)
fill_band(ax_b, b_hi50, b_lo50, dark_col)
line(ax_b, b_mean, 'black', 1.5)
style(ax_b, (-2, 52), [0, 10, 20, 30, 40, 50], 'Seasonal Trend, mean', 'b')
ax_b.set_ylabel('NO$_3^{-1}$+NO$_2^{-1}$ (\u03bcM)', fontsize=22)
ax_b.yaxis.set_label_coords(-0.056, 0.5)

# (c)
fill_band(ax_c, c_hi95, c_lo95, light_col)
fill_band(ax_c, c_hi50, c_lo50, dark_col)
line(ax_c, c_pred, 'blue', 1.4)
line(ax_c, c_obs, 'red', 1.4)
style(ax_c, (-0.8, 20.8), [0, 5, 10, 15, 20], 'Posterior Predicted, mean', 'c', show_x=True)

fig.savefig('out.png', dpi=100)
